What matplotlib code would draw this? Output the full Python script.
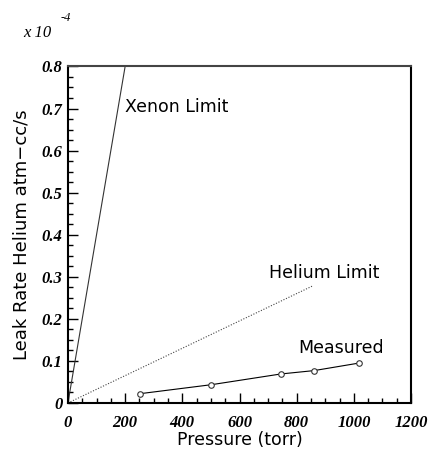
import matplotlib.pyplot as plt
from matplotlib.ticker import MultipleLocator
from matplotlib.font_manager import FontProperties

# data (leak rate in units of 1e-4 atm-cc/s)
xenon_p = [0, 200]
xenon_leak = [0, 0.8]
helium_p = [0, 858]
helium_leak = [0, 0.279]
meas_p = [251, 502, 745, 861, 1019]
meas_leak = [0.022, 0.0435, 0.069, 0.077, 0.095]

x_ticks = [0, 200, 400, 600, 800, 1000, 1200]
x_ticklabels = ["0", "200", "400", "600", "800", "1000", "1200"]
y_ticks = [0, 0.1, 0.2, 0.3, 0.4, 0.5, 0.6, 0.7, 0.8]
y_ticklabels = ["0", "0.1", "0.2", "0.3", "0.4", "0.5", "0.6", "0.7", "0.8"]

tick_font = FontProperties(family='Liberation Serif', style='italic',
                           weight='bold', size=12)

fig = plt.figure(figsize=(4.30, 4.49), dpi=100)
ax = fig.add_axes([0.158, 0.1025, 0.798, 0.7495])

ax.plot(xenon_p, xenon_leak, color='#333333', lw=0.8)
ax.plot(helium_p, helium_leak, color='#444444', lw=0.8, ls=(0, (1, 1.5)))
ax.plot(meas_p, meas_leak, color='black', lw=0.8, marker='o', ms=4,
        mfc='white', mec='#333333', mew=0.8)

ax.text(199, 0.692, "Xenon Limit", fontsize=12.5)
ax.text(703, 0.297, "Helium Limit", fontsize=12.5)
ax.text(804, 0.119, "Measured", fontsize=12.5)

ax.set_xlim(0, 1200)
ax.set_ylim(0, 0.8)
ax.set_xticks(x_ticks, labels=x_ticklabels, fontproperties=tick_font)
ax.set_yticks(y_ticks, labels=y_ticklabels, fontproperties=tick_font)
ax.xaxis.set_minor_locator(MultipleLocator(50))
ax.yaxis.set_minor_locator(MultipleLocator(0.025))
ax.tick_params(which='both', direction='in', top=False, right=False, width=1)
ax.tick_params(which='major', length=7)
ax.tick_params(which='minor', length=3.6)
ax.tick_params(axis='x', pad=9)
ax.tick_params(axis='y', pad=4)

for side in ['left', 'right', 'bottom', 'top']:
    ax.spines[side].set_linewidth(1.5)
ax.spines['top'].set_color('#444444')

ax.set_xlabel("Pressure (torr)", fontsize=12.5, labelpad=0)
ax.set_ylabel("Leak Rate Helium atm\u2212cc/s", fontsize=13, labelpad=8)

fig.text(23 / 430, 1 - 37 / 449, "x 10", fontfamily='Liberation Serif',
         fontstyle='italic', fontsize=12)
fig.text(61 / 430, 1 - 21 / 449, "-4", fontfamily='Liberation Serif',
         fontstyle='italic', fontsize=9)

fig.savefig("out.png", dpi=100)
